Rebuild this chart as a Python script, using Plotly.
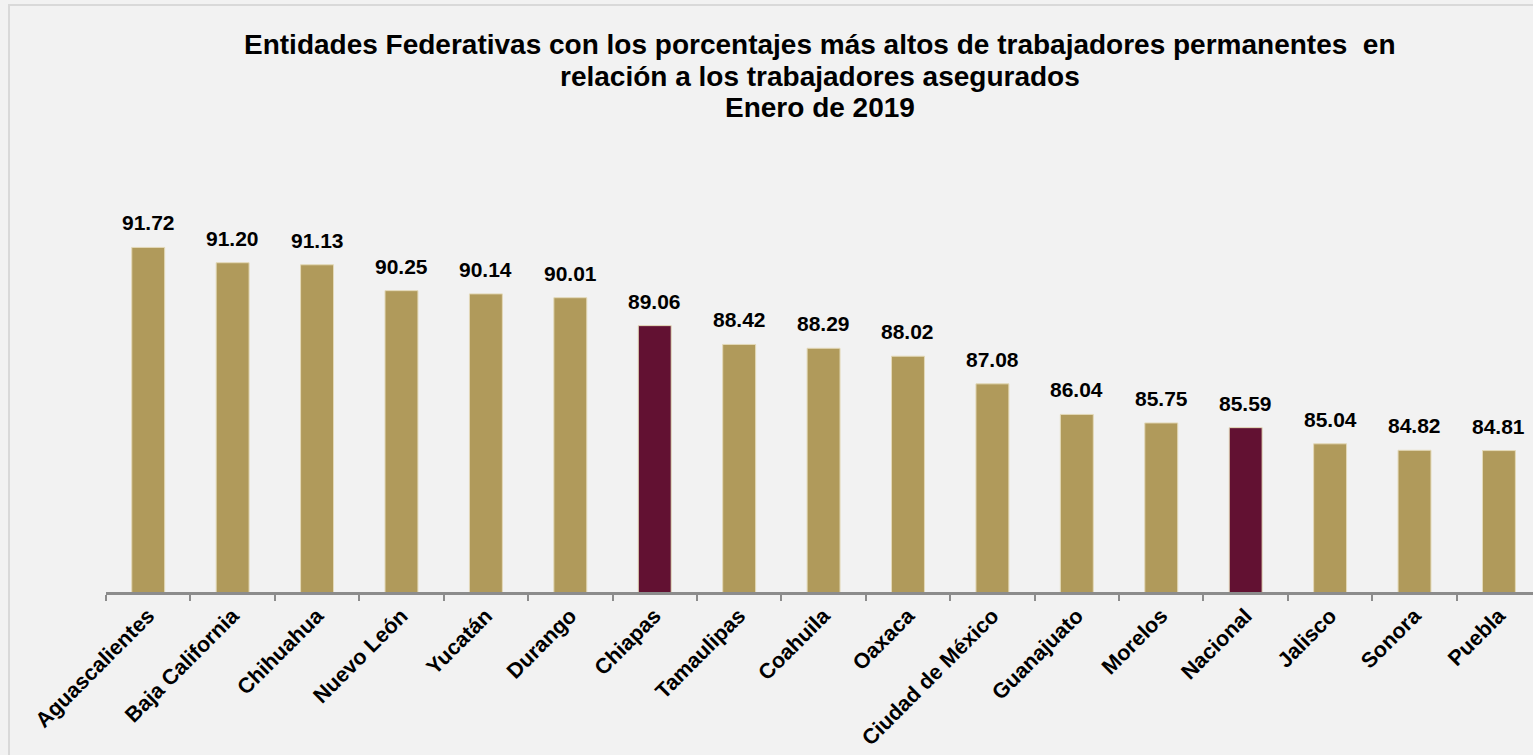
import plotly.graph_objects as go

categories = ["Aguascalientes", "Baja California", "Chihuahua", "Nuevo León", "Yucatán",
              "Durango", "Chiapas", "Tamaulipas", "Coahuila", "Oaxaca", "Ciudad de México",
              "Guanajuato", "Morelos", "Nacional", "Jalisco", "Sonora", "Puebla"]
values = [91.72, 91.20, 91.13, 90.25, 90.14, 90.01, 89.06, 88.42, 88.29, 88.02, 87.08,
          86.04, 85.75, 85.59, 85.04, 84.82, 84.81]
highlight = ["Chiapas", "Nacional"]
title_lines = ["Entidades Federativas con los porcentajes más altos de trabajadores permanentes  en",
               "relación a los trabajadores asegurados",
               "Enero de 2019"]

GOLD = "#b09a5b"
MAROON = "#621132"
FONT = "Arial, Liberation Sans, sans-serif"

colors = [MAROON if c in highlight else GOLD for c in categories]

W, H = 1533, 755
ML, MT, MB = 106, 150, 163
plot_h = H - MT - MB
px_per_unit = 29.4
ymin = 80
ymax = ymin + plot_h / px_per_unit
cat_w = 84.42
xmax = -0.5 + (W - ML) / cat_w


def py(pix):
    """pixel row from top of page -> paper y"""
    return (H - MB - pix) / plot_h


fig = go.Figure()
fig.add_trace(go.Bar(
    x=categories, y=values, marker=dict(color=colors, line=dict(color="#e3d9b8", width=1)),
    width=0.39, hoverinfo="x+y",
))

for c, v in zip(categories, values):
    fig.add_annotation(x=c, y=v, xref="x", yref="y", text=f"<b>{v:.2f}</b>",
                       showarrow=False, yanchor="bottom", yshift=11,
                       font=dict(family=FONT, size=21, color="#000000"))

title_centers = [45, 77, 108]
for t, yc in zip(title_lines, title_centers):
    fig.add_annotation(xref="paper", yref="paper", x=0.5, y=py(yc),
                       xanchor="center", yanchor="middle", showarrow=False,
                       text=f"<b>{t}</b>",
                       font=dict(family=FONT, size=28, color="#000000"))

# outer frame
fig.add_shape(type="rect", xref="paper", yref="paper",
              x0=(9 - ML) / (W - ML), x1=1.05,
              y0=-0.5, y1=py(5),
              line=dict(color="#d9d9d9", width=2), fillcolor="rgba(0,0,0,0)", layer="below")

fig.update_layout(
    width=W, height=H, autosize=False,
    margin=dict(l=ML, r=0, t=MT, b=MB, pad=0),
    paper_bgcolor="#f2f2f2", plot_bgcolor="#f2f2f2",
    showlegend=False, bargap=0.6,
    font=dict(family=FONT, color="#000000"),
    xaxis=dict(range=[-0.5, xmax], showline=True, linecolor="#8c8c8c", linewidth=2.5,
               ticks="outside", tickson="boundaries", ticklen=6, tickwidth=2, tickcolor="#8c8c8c",
               tickangle=-45, tickfont=dict(family=FONT, size=21.5, color="#000000"),
               showgrid=False, zeroline=False,
               tickmode="array", tickvals=categories, ticktext=[f"<b>{c}</b>" for c in categories]),
    yaxis=dict(range=[ymin, ymax], visible=False, showgrid=False, zeroline=False),
)

fig.write_html("out.html", config={"displayModeBar": False},
               post_script="document.body.style.margin='0';document.body.style.overflow='hidden';")
